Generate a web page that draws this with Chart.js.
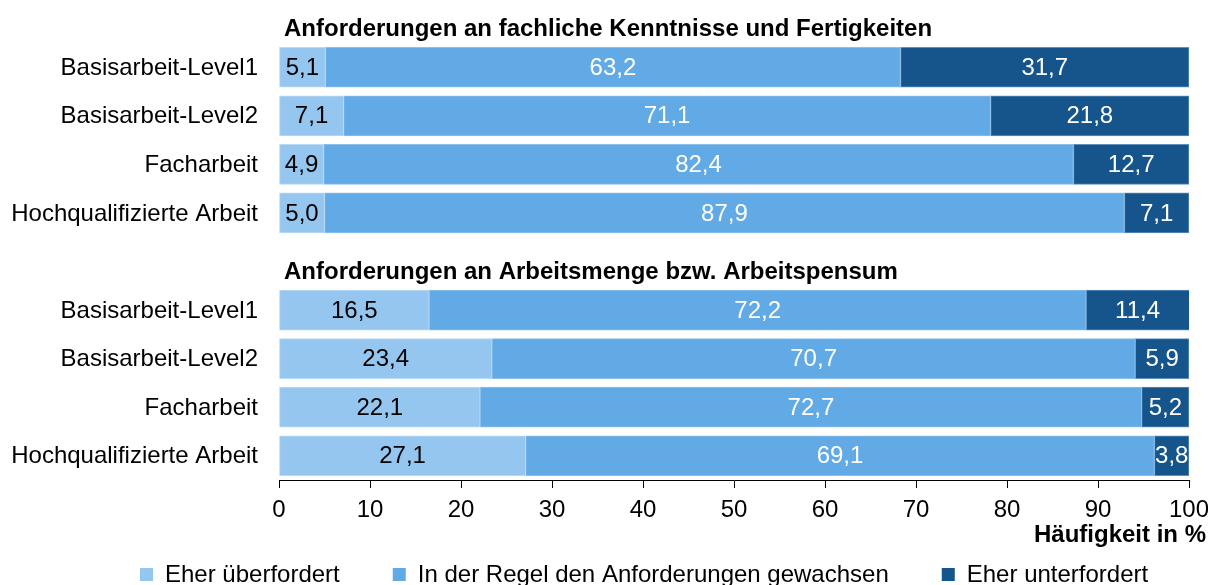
<!DOCTYPE html>
<html>
<head>
<meta charset="utf-8">
<script src="https://cdn.jsdelivr.net/npm/chart.js@4"></script>
<style>
  body { margin: 0; background: #fff; }
  #wrap { width: 1208px; height: 585px; }
</style>
</head>
<body>
<div id="wrap"><canvas id="chart" width="1208" height="585"></canvas></div>
<script>
// data
var categories = ['Basisarbeit-Level1', 'Basisarbeit-Level2', 'Facharbeit', 'Hochqualifizierte Arbeit'];
var groupTitles = ['Anforderungen an fachliche Kenntnisse und Fertigkeiten', 'Anforderungen an Arbeitsmenge bzw. Arbeitspensum'];
var seriesNames = ['Eher überfordert', 'In der Regel den Anforderungen gewachsen', 'Eher unterfordert'];

var fachUeber = [5.1, 7.1, 4.9, 5.0];
var fachGewachsen = [63.2, 71.1, 82.4, 87.9];
var fachUnter = [31.7, 21.8, 12.7, 7.1];

var mengeUeber = [16.5, 23.4, 22.1, 27.1];
var mengeGewachsen = [72.2, 70.7, 72.7, 69.1];
var mengeUnter = [11.4, 5.9, 5.2, 3.8];

var xTicks = [0, 10, 20, 30, 40, 50, 60, 70, 80, 90, 100];
var xTitle = 'Häufigkeit in %';

var colors = ['#95c6ef', '#62aae6', '#15558c'];
var borderColors = ['#b9daf5', '#8cc0ec', '#5d8fc0'];
var labelColors = ['#000', '#fff', '#fff'];

// both groups on one axis, with an empty row between them
var labels = categories.concat(['']).concat(categories);
function joinGroups(a, b) {
  return a.concat([null]).concat(b);
}
var seriesData = [
  joinGroups(fachUeber, mengeUeber),
  joinGroups(fachGewachsen, mengeGewachsen),
  joinGroups(fachUnter, mengeUnter)
];
var groupStart = [0, categories.length + 1];

var FONT = 'Arial, "Liberation Sans", sans-serif';
var NORMAL = '24px ' + FONT;
var BOLD = 'bold 24px ' + FONT;

function fmt(v) {
  return v.toFixed(1).replace('.', ',');
}

function drawText(ctx, text, x, y, align, font, color) {
  ctx.save();
  ctx.font = font;
  ctx.fillStyle = color;
  ctx.textAlign = align;
  ctx.textBaseline = 'middle';
  ctx.fillText(text, x, y);
  ctx.restore();
}

var valueLabels = {
  id: 'valueLabels',
  afterDatasetsDraw: function (chart) {
    var ctx = chart.ctx;
    chart.data.datasets.forEach(function (ds, di) {
      var meta = chart.getDatasetMeta(di);
      meta.data.forEach(function (bar, i) {
        var v = ds.data[i];
        if (v === null || v === undefined) return;
        var left = Math.min(bar.x, bar.base);
        var right = Math.min(Math.max(bar.x, bar.base), chart.chartArea.right);
        drawText(ctx, fmt(v), (left + right) / 2, bar.y + 1, 'center', NORMAL, labelColors[di]);
      });
    });
  }
};

var extras = {
  id: 'extras',
  afterDraw: function (chart) {
    var ctx = chart.ctx;
    var area = chart.chartArea;
    var y = chart.scales.y;
    var x = chart.scales.x;

    // category labels
    labels.forEach(function (l, i) {
      if (!l) return;
      drawText(ctx, l, area.left - 21, y.getPixelForValue(i) + 1, 'right', NORMAL, '#000');
    });
    // group titles
    groupStart.forEach(function (idx, g) {
      drawText(ctx, groupTitles[g], area.left + 5, y.getPixelForValue(idx) - 38, 'left', BOLD, '#000');
    });
    // x tick labels
    xTicks.forEach(function (v) {
      drawText(ctx, String(v), x.getPixelForValue(v), 510, 'center', NORMAL, '#000');
    });
    // axis title
    drawText(ctx, xTitle, 1206, 535, 'right', BOLD, '#000');

    // legend
    var gap = 53;
    var box = 13;
    ctx.save();
    ctx.font = NORMAL;
    var widths = seriesNames.map(function (n) { return box + 12 + ctx.measureText(n).width; });
    ctx.restore();
    var lx = 140;
    seriesNames.forEach(function (n, i) {
      ctx.fillStyle = colors[i];
      ctx.fillRect(lx, 568, box, box);
      drawText(ctx, n, lx + box + 12, 575, 'left', NORMAL, '#000');
      lx += widths[i] + gap;
    });
  }
};

var datasets = seriesData.map(function (d, i) {
  return {
    label: seriesNames[i],
    data: d,
    backgroundColor: colors[i],
    borderColor: borderColors[i],
    borderWidth: 1,
    borderSkipped: false,
    barThickness: 40
  };
});

var ctx = document.getElementById('chart').getContext('2d');
var chart = new Chart(ctx, {
  type: 'bar',
  data: { labels: labels, datasets: datasets },
  options: {
    indexAxis: 'y',
    responsive: false,
    animation: false,
    layout: { padding: { top: 43, right: 19, left: 0, bottom: 0 } },
    plugins: {
      legend: { display: false },
      tooltip: { enabled: false }
    },
    scales: {
      x: {
        stacked: true,
        min: 0,
        max: 100,
        afterBuildTicks: function (scale) {
          scale.ticks = xTicks.map(function (v) { return { value: v }; });
        },
        afterFit: function (scale) {
          scale.height = 105;
          scale.paddingLeft = 0;
          scale.paddingRight = 0;
        },
        border: { display: true, color: '#000', width: 1 },
        grid: { drawOnChartArea: false, drawTicks: true, tickLength: 8, color: '#000' },
        ticks: { display: false }
      },
      y: {
        stacked: true,
        afterFit: function (scale) { scale.width = 279; },
        border: { display: false },
        grid: { display: false, drawTicks: false },
        ticks: { display: false }
      }
    }
  },
  plugins: [valueLabels, extras]
});
</script>
</body>
</html>
